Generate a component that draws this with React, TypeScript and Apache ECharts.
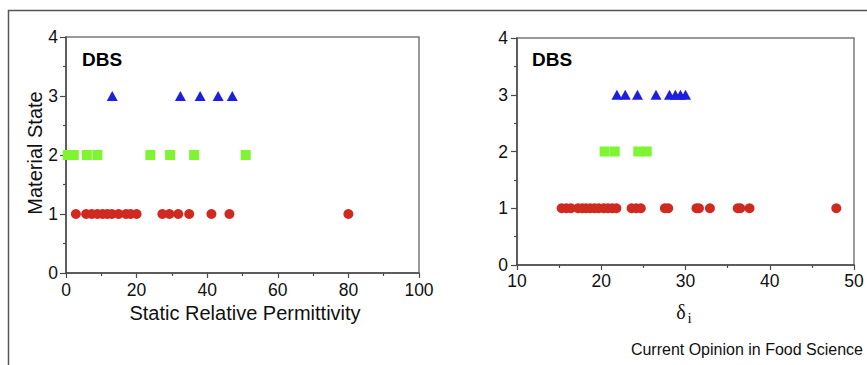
import React, { useEffect, useRef } from "react";
import * as echarts from "echarts";

// Left panel: static relative permittivity
const permLiquid = [2.8, 5.7, 7.3, 8.9, 10.4, 11.7, 13.0, 14.9, 17.0, 18.3, 20.0, 27.3, 29.3, 31.8, 34.9, 41.2, 46.3, 80.0];
const permSemi = [0.5, 2.2, 5.9, 8.9, 23.9, 29.5, 36.3, 50.9];
const permSolid = [13.1, 32.4, 38.0, 43.1, 47.1];

// Right panel: delta_i
const deltaLiquid = [15.3, 15.86, 16.4, 17.25, 17.75, 18.2, 18.7, 19.2, 19.7, 20.3, 20.8, 21.3, 21.8, 23.6, 24.15, 24.7, 27.55, 27.95, 31.3, 31.6, 32.9, 36.2, 36.5, 37.6, 47.9];
const deltaSemi = [20.4, 21.6, 24.4, 25.4];
const deltaSolid = [21.86, 22.85, 24.3, 26.5, 28.1, 28.8, 29.4, 30.0];

const stateLiquid = 1;
const stateSemi = 2;
const stateSolid = 3;

const RED = "#d02a20";
const GREEN = "#7ef530";
const BLUE = "#1e1ee0";
const AXIS = "#4a4a4a";
const FRAME = "#7a7a7a";
const SANS = "'Liberation Sans', Arial, Helvetica, sans-serif";
const SERIF = "'Liberation Serif', 'Times New Roman', serif";

const toPts = (xs: number[], y: number) => xs.map((x) => [x, y]);

export default function App() {
  const ref = useRef<HTMLDivElement>(null);
  useEffect(() => {
    if (!ref.current) return;
    const chart = echarts.init(ref.current, undefined, { renderer: "svg" });
    const xAxisBase = (gridIndex: number, min: number, max: number, interval: number, margin: number) => ({
      type: "value",
      gridIndex,
      min,
      max,
      interval,
      axisLine: { show: true, onZero: false, lineStyle: { color: AXIS, width: 1.5 } },
      axisTick: { show: true, length: 5, lineStyle: { color: AXIS, width: 1.2 } },
      minorTick: { show: true, splitNumber: 2, length: 3, lineStyle: { color: AXIS, width: 1.2 } },
      axisLabel: { color: "#111", fontSize: 17.5, fontFamily: SANS, margin },
      splitLine: { show: false },
    });
    const yAxisBase = (gridIndex: number, margin: number) => ({
      type: "value",
      gridIndex,
      min: 0,
      max: 4,
      interval: 1,
      axisLine: { show: true, onZero: false, lineStyle: { color: AXIS, width: 1.5 } },
      axisTick: { show: true, length: 6, lineStyle: { color: AXIS, width: 1.2 } },
      minorTick: { show: true, splitNumber: 2, length: 3, lineStyle: { color: AXIS, width: 1.2 } },
      axisLabel: { color: "#111", fontSize: 17.5, fontFamily: SANS, margin },
      splitLine: { show: false },
    });
    const sc = (xi: number, data: number[][], symbol: string, size: any, color: string) => ({
      type: "scatter",
      xAxisIndex: xi,
      yAxisIndex: xi,
      data,
      symbol,
      symbolSize: size,
      itemStyle: { color, opacity: 1 },
      emphasis: { disabled: true },
    });
    chart.setOption({
      animation: false,
      grid: [
        { left: 66, top: 37, width: 353, height: 236, show: true, borderColor: FRAME, borderWidth: 1.5, backgroundColor: "transparent" },
        { left: 517, top: 38, width: 337, height: 227, show: true, borderColor: FRAME, borderWidth: 1.5, backgroundColor: "transparent" },
      ],
      xAxis: [xAxisBase(0, 0, 100, 20, 8), xAxisBase(1, 10, 50, 10, 7)],
      yAxis: [yAxisBase(0, 8), yAxisBase(1, 9)],
      series: [
        sc(0, toPts(permLiquid, stateLiquid), "circle", 10, RED),
        sc(0, toPts(permSemi, stateSemi), "rect", 10, GREEN),
        sc(0, toPts(permSolid, stateSolid), "triangle", [11, 10], BLUE),
        sc(1, toPts(deltaLiquid, stateLiquid), "circle", 10, RED),
        sc(1, toPts(deltaSemi, stateSemi), "rect", 10, GREEN),
        sc(1, toPts(deltaSolid, stateSolid), "triangle", [11, 10], BLUE),
      ],
      graphic: [
        {
          type: "rect",
          shape: { x: 8.5, y: 10.5, width: 900, height: 400 },
          style: { fill: "none", stroke: "#555", lineWidth: 1.5 },
          silent: true,
        },
        {
          type: "text",
          x: 82,
          y: 59,
          style: { text: "DBS", font: `bold 19px ${SANS}`, fill: "#000", textVerticalAlign: "middle" },
        },
        {
          type: "text",
          x: 532,
          y: 59,
          style: { text: "DBS", font: `bold 19px ${SANS}`, fill: "#000", textVerticalAlign: "middle" },
        },
        {
          type: "text",
          x: 245,
          y: 313,
          style: { text: "Static Relative Permittivity", font: `20px ${SANS}`, fill: "#111", textAlign: "center", textVerticalAlign: "middle" },
        },
        {
          type: "text",
          x: 35,
          y: 153,
          rotation: Math.PI / 2,
          style: { text: "Material State", font: `20px ${SANS}`, fill: "#111", textAlign: "center", textVerticalAlign: "middle" },
        },
        {
          type: "text",
          x: 681,
          y: 312,
          style: { text: "δ", font: `20px ${SERIF}`, fill: "#111", textAlign: "center", textVerticalAlign: "middle" },
        },
        {
          type: "text",
          x: 689.5,
          y: 318,
          style: { text: "i", font: `15px ${SERIF}`, fill: "#111", textAlign: "center", textVerticalAlign: "middle" },
        },
        {
          type: "text",
          x: 863,
          y: 349,
          style: { text: "Current Opinion in Food Science", font: `16px ${SANS}`, fill: "#111", textAlign: "right", textVerticalAlign: "middle" },
        },
      ],
    });
    return () => chart.dispose();
  }, []);
  return (
    <div
      ref={ref}
      style={{ position: "absolute", left: 0, top: 0, width: 867, height: 365, background: "#fff" }}
    />
  );
}
